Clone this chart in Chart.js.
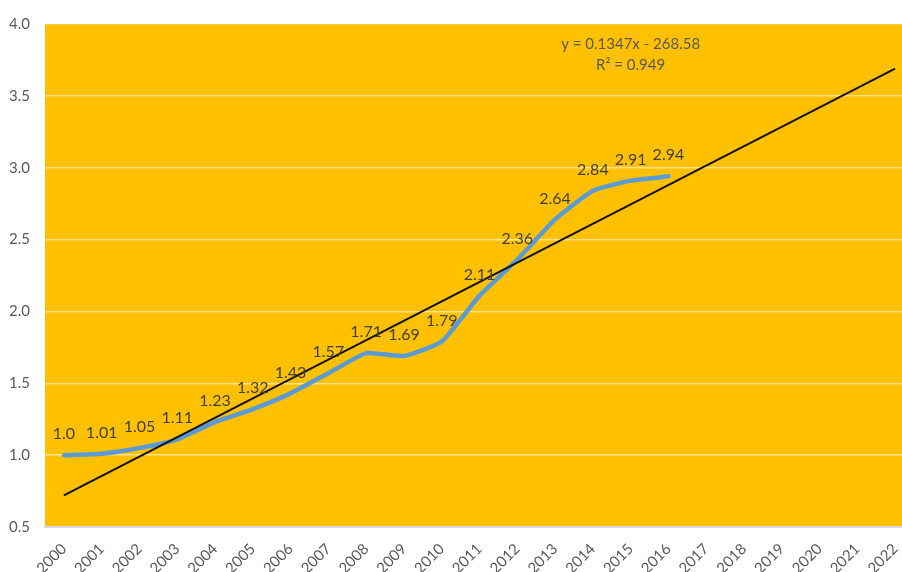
<!DOCTYPE html>
<html>
<head>
<meta charset="utf-8">
<script src="https://cdn.jsdelivr.net/npm/chart.js@4/dist/chart.umd.min.js"></script>
<style>
  html, body { margin: 0; padding: 0; background: #fff; overflow: hidden; }
  #wrap { width: 914px; height: 572px; }
</style>
</head>
<body>
<div id="wrap"><canvas id="chart"></canvas></div>
<script>
const years = ['2000', '2001', '2002', '2003', '2004', '2005', '2006', '2007', '2008', '2009', '2010',
  '2011', '2012', '2013', '2014', '2015', '2016', '2017', '2018', '2019', '2020', '2021', '2022'];
const values = [1.0, 1.01, 1.05, 1.11, 1.23, 1.32, 1.43, 1.57, 1.71, 1.69, 1.79, 2.11, 2.36, 2.64, 2.84, 2.91, 2.94];
const valueLabels = ['1.0', '1.01', '1.05', '1.11', '1.23', '1.32', '1.43', '1.57', '1.71', '1.69', '1.79',
  '2.11', '2.36', '2.64', '2.84', '2.91', '2.94'];
// trend line end points (2000 and 2022)
const trendStart = 0.72;
const trendEnd = 3.69;
const trendText = ['y = 0.1347x - 268.58', 'R² = 0.949'];

const trendData = years.map((y, i) => (i === 0 ? trendStart : i === years.length - 1 ? trendEnd : null));

const plotBackground = {
  id: 'plotBackground',
  beforeDraw(chart) {
    const { ctx, chartArea } = chart;
    ctx.save();
    ctx.fillStyle = '#FFC000';
    ctx.fillRect(chartArea.left, chartArea.top, chartArea.right - chartArea.left, chartArea.bottom - chartArea.top);
    ctx.restore();
  },
};

const pointLabels = {
  id: 'pointLabels',
  afterDatasetsDraw(chart) {
    const { ctx } = chart;
    const meta = chart.getDatasetMeta(0);
    ctx.save();
    ctx.font = '16px Lato, "Open Sans", sans-serif';
    ctx.fillStyle = '#404040';
    ctx.textAlign = 'center';
    ctx.textBaseline = 'middle';
    meta.data.forEach((pt, i) => {
      ctx.fillText(valueLabels[i], pt.x, pt.y - 21);
    });

    // trend equation
    ctx.font = '15px Lato, "Open Sans", sans-serif';
    ctx.fillStyle = '#595959';
    const cx = chart.scales.x.getPixelForValue(15);
    ctx.fillText(trendText[0], cx, 44);
    ctx.fillText(trendText[1], cx, 65);
    ctx.restore();
  },
};

new Chart(document.getElementById('chart'), {
  type: 'line',
  data: {
    labels: years,
    datasets: [
      {
        label: 'Index',
        data: values,
        borderColor: '#5B9BD5',
        borderWidth: 4.5,
        pointRadius: 0,
        tension: 0.15,
        borderCapStyle: 'round',
        order: 2,
      },
      {
        label: 'Trend',
        data: trendData,
        borderColor: '#111111',
        borderWidth: 2,
        pointRadius: 0,
        spanGaps: true,
        order: 1,
      },
    ],
  },
  options: {
    responsive: true,
    maintainAspectRatio: false,
    animation: false,
    layout: { padding: { top: 19, right: 0, left: 0, bottom: 0 } },
    plugins: {
      legend: { display: false },
      tooltip: { enabled: false },
    },
    scales: {
      x: {
        offset: true,
        grid: { display: false, drawTicks: false },
        border: { color: '#D9D9D9', width: 2 },
        ticks: {
          minRotation: 45,
          maxRotation: 45,
          autoSkip: false,
          padding: 13,
          color: '#595959',
          font: { family: 'Lato, "Open Sans", sans-serif', size: 15 },
        },
        afterFit(scale) {
          scale.height = 45;
          scale.paddingLeft = 0;
          scale.paddingRight = 0;
        },
      },
      y: {
        min: 0.5,
        max: 4.0,
        ticks: {
          stepSize: 0.5,
          padding: 15,
          color: '#595959',
          font: { family: 'Lato, "Open Sans", sans-serif', size: 15 },
          callback: (v) => Number(v).toFixed(1),
        },
        grid: { color: 'rgba(255,255,255,0.55)', lineWidth: 1.5, drawTicks: false },
        border: { display: false },
        afterFit(scale) { scale.width = 45; },
      },
    },
  },
  plugins: [plotBackground, pointLabels],
});
</script>
</body>
</html>
